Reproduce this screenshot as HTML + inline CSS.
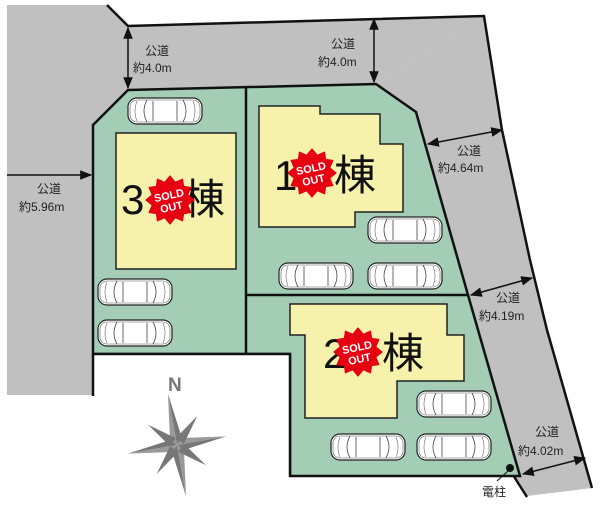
<!DOCTYPE html>
<html><head><meta charset="utf-8"><style>
html,body{margin:0;padding:0;background:#fff;}
svg{display:block;}
text{font-family:"Liberation Sans","Noto Sans CJK JP",sans-serif;}
</style></head><body>
<svg width="600" height="507" viewBox="0 0 600 507" xmlns="http://www.w3.org/2000/svg">
<defs>
<symbol id="car" viewBox="0 0 76 28">
<rect x="1" y="1" width="74" height="26" rx="9" fill="#fff" stroke="#222" stroke-width="1.2"/>
<rect x="3" y="3" width="70" height="22" rx="7" fill="none" stroke="#555" stroke-width="0.6"/>
<path d="M20 3 Q14 14 20 25 M56 3 Q62 14 56 25 M26 4 L26 24 M50 4 L50 24" fill="none" stroke="#444" stroke-width="0.8"/>
<path d="M10 4 Q6 14 10 24 M66 4 Q70 14 66 24" fill="none" stroke="#666" stroke-width="0.6"/>
</symbol>
<symbol id="burst" viewBox="-24 -24 48 48">
<polygon fill="#e60012" points="0,-23 5,-17 12,-20 13,-13 20,-12 17,-5 23,0 17,5 20,12 13,13 12,20 5,17 0,23 -5,17 -12,20 -13,13 -20,12 -17,5 -23,0 -17,-5 -20,-12 -13,-13 -12,-20 -5,-17"/>
<text x="0" y="-1" font-size="10" font-weight="bold" fill="#fff" text-anchor="middle" transform="rotate(-12)">SOLD</text>
<text x="0" y="10" font-size="10" font-weight="bold" fill="#fff" text-anchor="middle" transform="rotate(-12)">OUT</text>
</symbol>
<marker id="ar" viewBox="0 0 10 10" refX="9" refY="5" markerWidth="8" markerHeight="8" orient="auto-start-reverse"><path d="M0 1 L10 5 L0 9 Z" fill="#111"/></marker>
</defs>
<!-- roads -->
<polygon fill="#c0c0c0" points="7,5 107,5 128,26 128,90 93,125 93,395 7,395"/>
<polygon fill="#c0c0c0" stroke="none" points="128,26 484,16 484,16 376,84 128,90"/>
<polygon fill="#c0c0c0" points="484,16 502,130 530,260 547,330 592,488 527,496 513,475 468,295 416,112 376,84"/>
<polyline points="107,5 128,26 484,16 502,130 530,260 547,330 592,488" fill="none" stroke="#111" stroke-width="2.5"/>
<line x1="513" y1="475" x2="527" y2="497" stroke="#111" stroke-width="2.5"/>
<!-- lot -->
<polygon fill="#a3cdb5" stroke="#111" stroke-width="2.5" points="128,90 376,84 416,112 468,295 520,476 290,476 290,354 93,354 93,125"/>
<line x1="246" y1="87" x2="246" y2="354" stroke="#111" stroke-width="2.5"/>
<line x1="246" y1="295" x2="468" y2="295" stroke="#111" stroke-width="2.5"/>
<rect x="93" y="355" width="196" height="152" fill="#fff"/>
<line x1="92" y1="354" x2="291" y2="354" stroke="#111" stroke-width="2.5"/>
<line x1="290" y1="354" x2="290" y2="477" stroke="#111" stroke-width="2.5"/>
<line x1="93" y1="354" x2="93" y2="396" stroke="#111" stroke-width="2.5"/>
<!-- buildings -->
<rect x="116" y="133" width="120" height="136" fill="#f6f2ac" stroke="#222" stroke-width="1.5"/>
<polygon fill="#f6f2ac" stroke="#222" stroke-width="1.5" points="259,106 320,106 320,114 380,114 380,144 403,144 403,212 355,212 355,227 259,227"/>
<polygon fill="#f6f2ac" stroke="#222" stroke-width="1.5" points="290,304 447,304 447,335 464,335 464,381 397,381 397,418 305,418 305,335 290,335"/>
<!-- cars -->
<use href="#car" x="127" y="97" width="76" height="28"/>
<use href="#car" x="97" y="278" width="76" height="28"/>
<use href="#car" x="97" y="319" width="76" height="28"/>
<use href="#car" x="367" y="216" width="76" height="28"/>
<use href="#car" x="278" y="262" width="76" height="28"/>
<use href="#car" x="367" y="262" width="76" height="28"/>
<use href="#car" x="416" y="390" width="76" height="28"/>
<use href="#car" x="330" y="433" width="76" height="28"/>
<use href="#car" x="416" y="433" width="76" height="28"/>
<!-- labels -->
<g font-size="42" fill="#111">
<text x="121" y="214">3</text><text x="183" y="214">棟</text>
<text x="274" y="190">1</text><text x="334" y="190">棟</text>
<text x="323" y="368">2</text><text x="382" y="368">棟</text>
</g>
<use href="#burst" x="144" y="174" width="52" height="52"/>
<use href="#burst" x="286" y="147" width="52" height="52"/>
<use href="#burst" x="332" y="326" width="52" height="52"/>
<!-- dimension arrows -->
<g stroke="#111" stroke-width="1.5" marker-start="url(#ar)" marker-end="url(#ar)">
<line x1="128" y1="28" x2="128" y2="88"/>
<line x1="374" y1="19" x2="374" y2="82"/>
<line x1="428" y1="144" x2="502" y2="130"/>
<line x1="471" y1="295" x2="532" y2="278"/>
<line x1="523" y1="474" x2="585" y2="458"/>
</g>
<line x1="7" y1="175" x2="91" y2="175" stroke="#111" stroke-width="1.5" marker-end="url(#ar)"/>
<g font-size="12" fill="#222">
<text x="145" y="55">公道</text><text x="133" y="72">約4.0m</text>
<text x="331" y="48">公道</text><text x="318" y="66">約4.0m</text>
<text x="37" y="193">公道</text><text x="19" y="211">約5.96m</text>
<text x="457" y="155">公道</text><text x="438" y="172">約4.64m</text>
<text x="496" y="302">公道</text><text x="479" y="320">約4.19m</text>
<text x="535" y="436">公道</text><text x="518" y="455">約4.02m</text>
<text x="482" y="496">電柱</text>
</g>
<circle cx="510" cy="468" r="4" fill="#111"/>
<line x1="508" y1="471" x2="497" y2="481" stroke="#111" stroke-width="1"/>
<!-- compass -->
<g transform="translate(177,445) rotate(-10)" fill="#777">
<text x="-9" y="-54" font-size="19" font-weight="bold" fill="#777" transform="rotate(10)">N</text>
<polygon points="0,-52 6,-6 0,0"/><polygon points="0,-52 -6,-6 0,0" fill="#999"/>
<polygon points="0,52 -6,6 0,0"/><polygon points="0,52 6,6 0,0" fill="#999"/>
<polygon points="50,0 6,6 0,0"/><polygon points="50,0 6,-6 0,0" fill="#999"/>
<polygon points="-50,0 -6,-6 0,0"/><polygon points="-50,0 -6,6 0,0" fill="#999"/>
<polygon points="25,-25 7,0 0,-7"/><polygon points="-25,-25 0,-7 -7,0"/>
<polygon points="25,25 0,7 7,0"/><polygon points="-25,25 -7,0 0,7"/>
</g>
</svg>
</body></html>
